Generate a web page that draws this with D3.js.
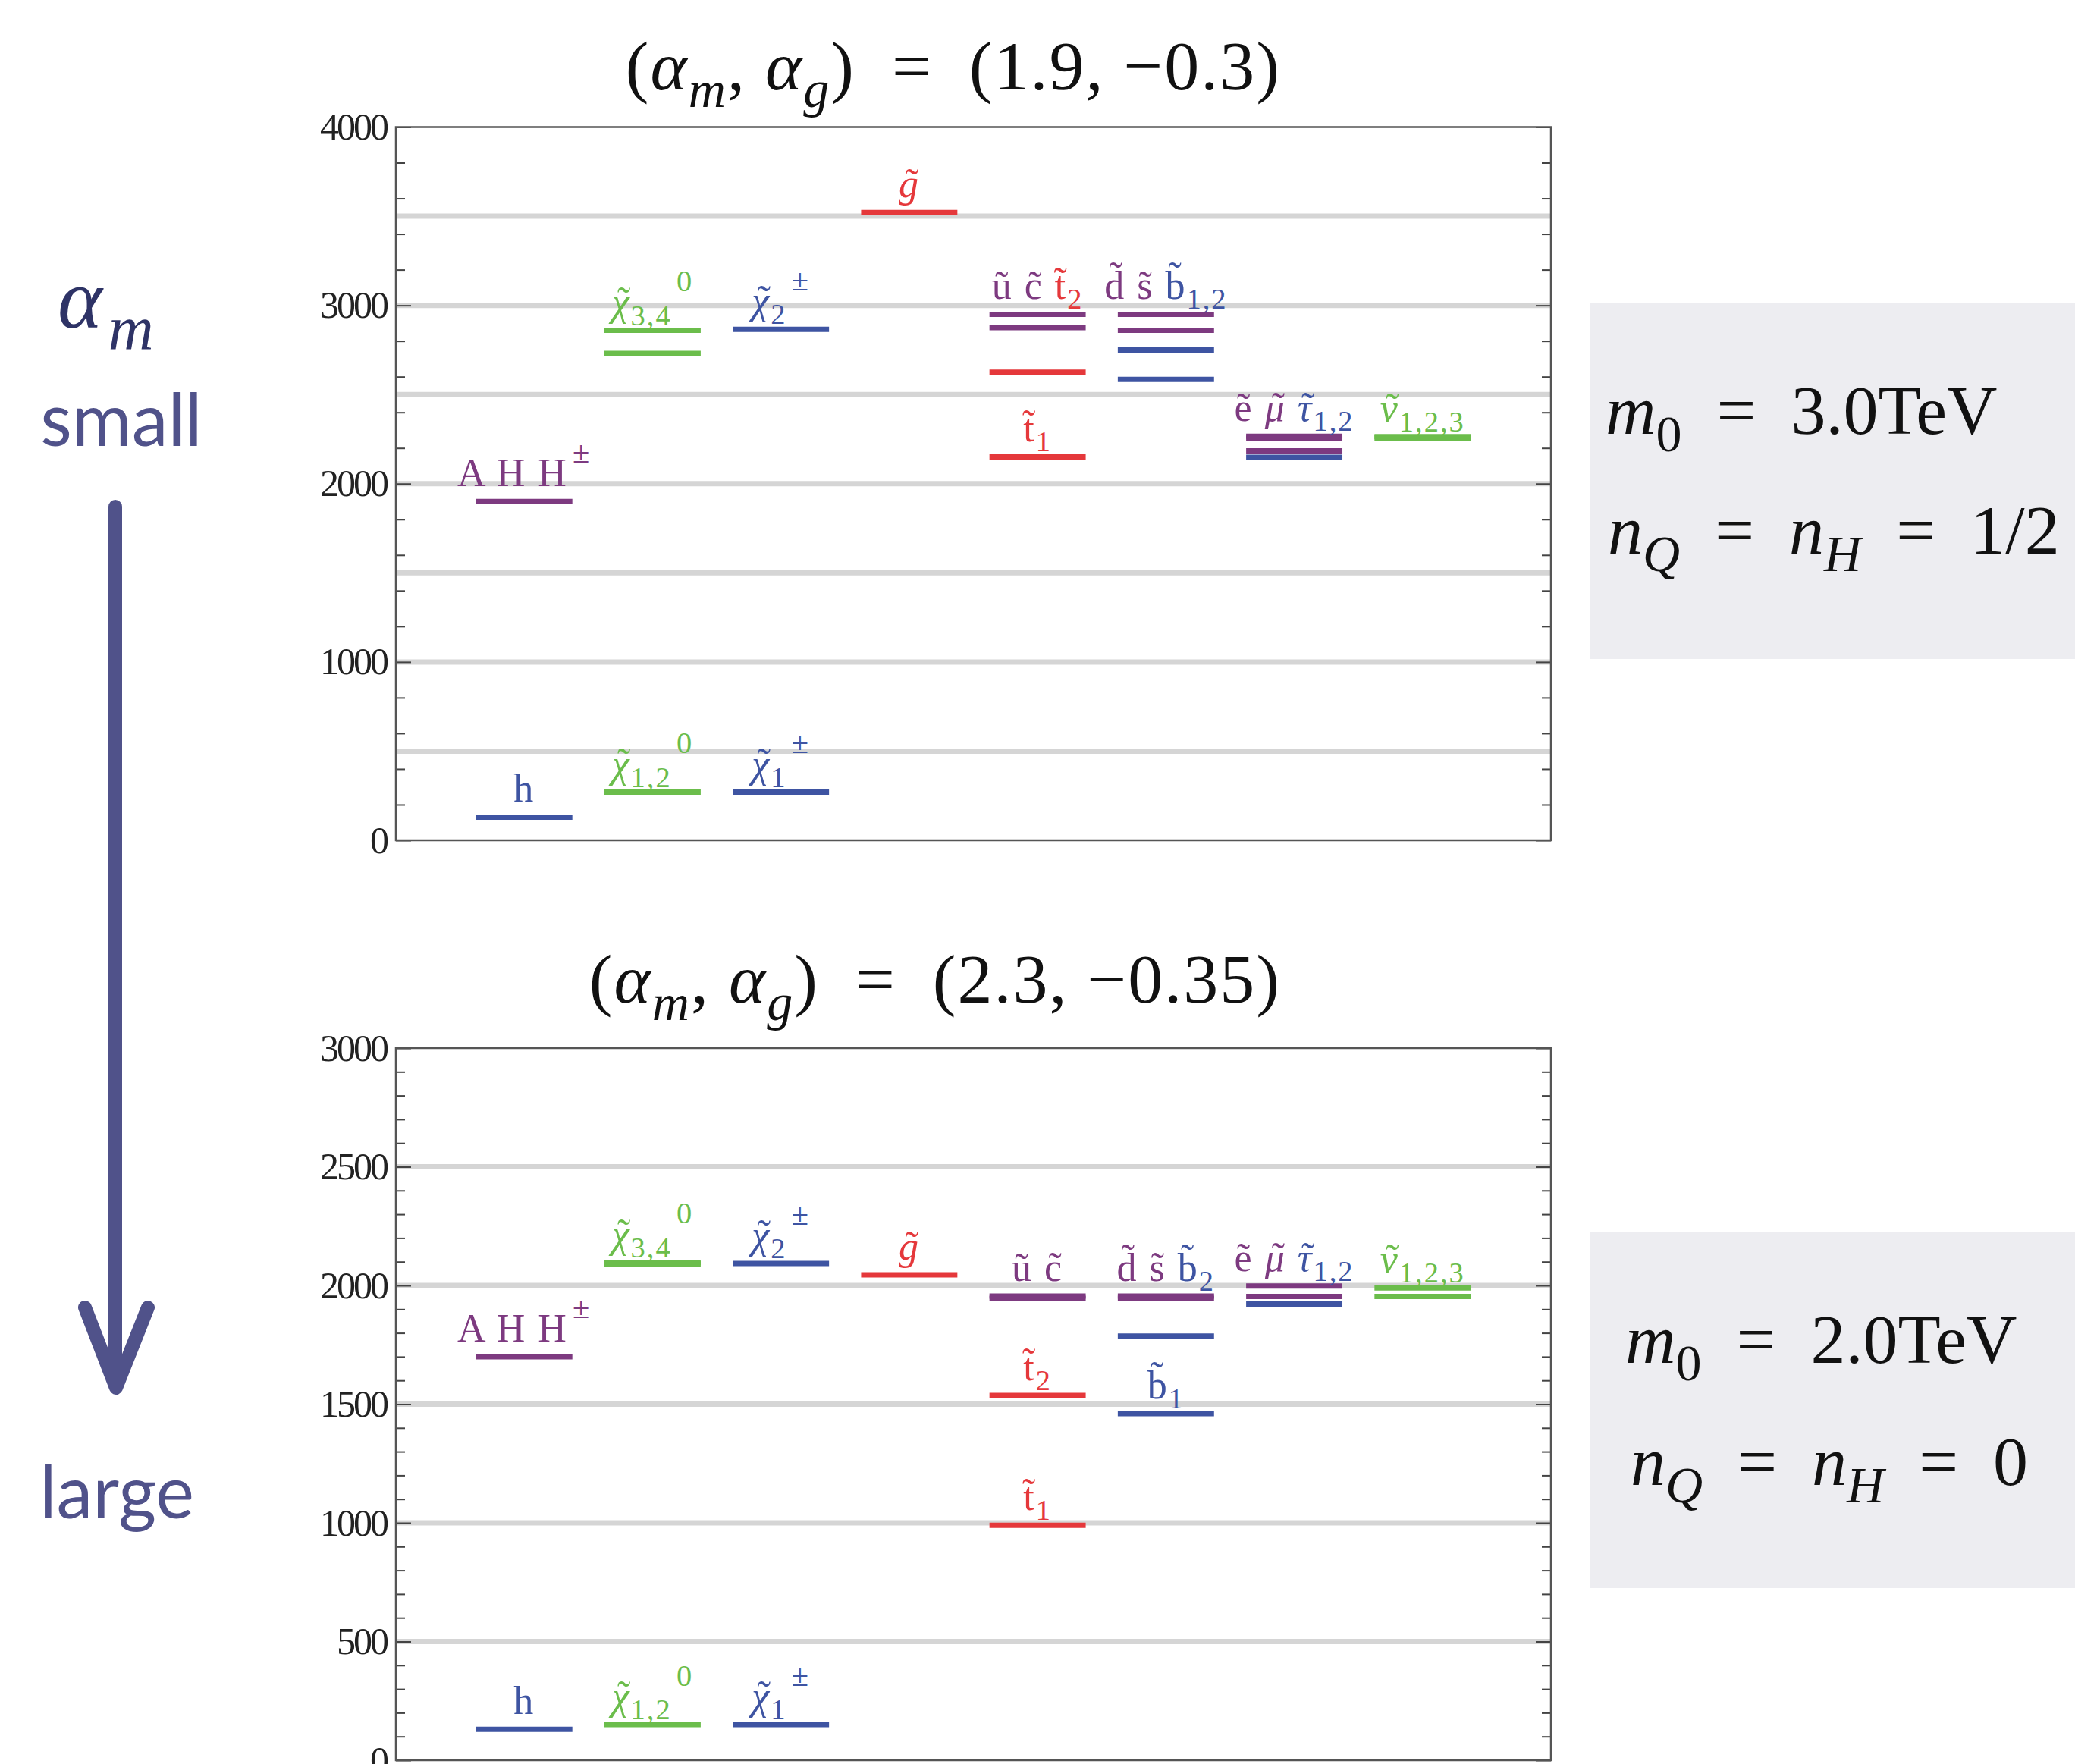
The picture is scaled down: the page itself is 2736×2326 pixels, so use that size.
<!DOCTYPE html>
<html>
<head>
<meta charset="utf-8">
<script src="https://cdn.jsdelivr.net/npm/d3@7"></script>
<style>
	body { margin: 0; background: #fff; }
</style>
</head>
<body>
<script>
const W = 2736, H = 2326;
const SERIF = '"Liberation Serif", "DejaVu Serif", serif';

// particle kind -> colour group
const kinds = ['h', 'heavyH', 'neutralino', 'chargino', 'gluino', 'squark', 'stop', 'sbottom', 'slepton', 'stau', 'sneutrino'];
const kindColors = ['#3e54a2', '#7d3a80', '#6bbd4b', '#3e54a2', '#e5383b', '#7d3a80', '#e5383b', '#3e54a2', '#7d3a80', '#3e54a2', '#6bbd4b'];

// top spectrum, (alpha_m, alpha_g) = (1.9, -0.3): [column, kind, mass GeV]
const topLevels = [
	[1, 'h', 130], [1, 'heavyH', 1900],
	[2, 'neutralino', 270], [2, 'neutralino', 2860], [2, 'neutralino', 2730],
	[3, 'chargino', 270], [3, 'chargino', 2865],
	[4, 'gluino', 3520],
	[5, 'squark', 2950], [5, 'squark', 2875], [5, 'stop', 2625], [5, 'stop', 2150],
	[6, 'squark', 2950], [6, 'squark', 2860], [6, 'sbottom', 2750], [6, 'sbottom', 2585],
	[7, 'slepton', 2266], [7, 'slepton', 2254], [7, 'slepton', 2184], [7, 'stau', 2148],
	[8, 'sneutrino', 2264], [8, 'sneutrino', 2256]
];

// bottom spectrum, (alpha_m, alpha_g) = (2.3, -0.35)
const bottomLevels = [
	[1, 'h', 130], [1, 'heavyH', 1700],
	[2, 'neutralino', 150], [2, 'neutralino', 2097], [2, 'neutralino', 2091],
	[3, 'chargino', 150], [3, 'chargino', 2093],
	[4, 'gluino', 2045],
	[5, 'squark', 1955], [5, 'squark', 1946], [5, 'stop', 1537], [5, 'stop', 990],
	[6, 'squark', 1955], [6, 'squark', 1946], [6, 'sbottom', 1787], [6, 'sbottom', 1460],
	[7, 'slepton', 1998], [7, 'slepton', 1954], [7, 'stau', 1922],
	[8, 'sneutrino', 1990], [8, 'sneutrino', 1954]
];

// labels: [column, mass the label sits over, parts [text, kind, mode]]
// mode: i italic, it italic with tilde, sub, sup, isub
const topLabels = [
	[1, 130, [['h', 'h']]],
	[1, 1900, [['A  H  H', 'heavyH'], ['±', 'heavyH', 'sup']]],
	[2, 270, [['χ', 'neutralino', 'it'], ['1,2', 'neutralino', 'sub'], ['0', 'neutralino', 'sup']]],
	[2, 2860, [['χ', 'neutralino', 'it'], ['3,4', 'neutralino', 'sub'], ['0', 'neutralino', 'sup']]],
	[3, 270, [['χ', 'chargino', 'it'], ['1', 'chargino', 'sub'], ['±', 'chargino', 'sup']]],
	[3, 2865, [['χ', 'chargino', 'it'], ['2', 'chargino', 'sub'], ['±', 'chargino', 'sup']]],
	[4, 3520, [['g', 'gluino', 'it']]],
	[5, 2950, [['ũ  c̃ ', 'squark'], ['t̃', 'stop'], ['2', 'stop', 'sub']]],
	[5, 2150, [['t̃', 'stop'], ['1', 'stop', 'sub']]],
	[6, 2950, [['d̃ s̃  ', 'squark'], ['b̃', 'sbottom'], ['1,2', 'sbottom', 'sub']]],
	[7, 2266, [['ẽ ', 'slepton'], ['μ', 'slepton', 'it'], [' '], ['τ', 'stau', 'it'], ['1,2', 'stau', 'sub']]],
	[8, 2264, [['ν', 'sneutrino', 'it'], ['1,2,3', 'sneutrino', 'sub']]]
];

const bottomLabels = [
	[1, 130, [['h', 'h']]],
	[1, 1700, [['A  H  H', 'heavyH'], ['±', 'heavyH', 'sup']]],
	[2, 150, [['χ', 'neutralino', 'it'], ['1,2', 'neutralino', 'sub'], ['0', 'neutralino', 'sup']]],
	[2, 2097, [['χ', 'neutralino', 'it'], ['3,4', 'neutralino', 'sub'], ['0', 'neutralino', 'sup']]],
	[3, 150, [['χ', 'chargino', 'it'], ['1', 'chargino', 'sub'], ['±', 'chargino', 'sup']]],
	[3, 2093, [['χ', 'chargino', 'it'], ['2', 'chargino', 'sub'], ['±', 'chargino', 'sup']]],
	[4, 2045, [['g', 'gluino', 'it']]],
	[5, 1955, [['ũ    c̃', 'squark']]],
	[5, 1537, [['t̃', 'stop'], ['2', 'stop', 'sub']]],
	[5, 990, [['t̃', 'stop'], ['1', 'stop', 'sub']]],
	[6, 1955, [['d̃ s̃  ', 'squark'], ['b̃', 'sbottom'], ['2', 'sbottom', 'sub']]],
	[6, 1460, [['b̃', 'sbottom'], ['1', 'sbottom', 'sub']]],
	[7, 1998, [['ẽ ', 'slepton'], ['μ', 'slepton', 'it'], [' '], ['τ', 'stau', 'it'], ['1,2', 'stau', 'sub']]],
	[8, 1990, [['ν', 'sneutrino', 'it'], ['1,2,3', 'sneutrino', 'sub']]]
];

const topTicks = [0, 1000, 2000, 3000, 4000];
const bottomTicks = [0, 500, 1000, 1500, 2000, 2500, 3000];

const topTitle = [['('], ['α', null, 'i'], ['m', null, 'isub'], [', '], ['α', null, 'i'], ['g', null, 'isub'], [')\u2002=\u2002(1.9, −0.3)']];
const bottomTitle = [['('], ['α', null, 'i'], ['m', null, 'isub'], [', '], ['α', null, 'i'], ['g', null, 'isub'], [')\u2002=\u2002(2.3, −0.35)']];

const topBox = [
	[['m', null, 'i'], ['0', null, 'sub'], ['\u2002=\u20023.0TeV']],
	[['n', null, 'i'], ['Q', null, 'isub'], ['\u2002=\u2002'], ['n', null, 'i'], ['H', null, 'isub'], ['\u2002=\u20021/2']]
];
const bottomBox = [
	[['m', null, 'i'], ['0', null, 'sub'], ['\u2002=\u20022.0TeV']],
	[['n', null, 'i'], ['Q', null, 'isub'], ['\u2002=\u2002'], ['n', null, 'i'], ['H', null, 'isub'], ['\u2002=\u20020']]
];

const color = d3.scaleOrdinal().domain(kinds).range(kindColors);

const svg = d3.select('body')
	.append('svg')
	.attr('width', W)
	.attr('height', H)
	.style('font-family', SERIF);

// write text made of pieces with sub/superscripts, then put tildes on 'it' pieces
function mathText(sel, parts, fs, fallback) {
	let cur = 0;
	const accents = [];
	parts.forEach(p => {
		const mode = p[2] || '';
		let target = 0, size = fs, dx = 0;
		if (mode.endsWith('sub')) { target = 0.25 * fs; size = fs * 0.74; }
		if (mode === 'sup') { target = -0.6 * fs; size = fs * 0.78; dx = 0.12 * fs; }
		const ts = sel.append('tspan')
			.attr('dx', dx)
			.attr('dy', target - cur)
			.attr('font-size', size)
			.attr('font-style', mode.startsWith('i') ? 'italic' : 'normal')
			.attr('fill', p[1] ? color(p[1]) : fallback)
			.text(p[0]);
		if (mode === 'it') accents.push(ts);
		cur = target;
	});
	const baseY = +sel.attr('y');
	accents.forEach(ts => {
		const e = ts.node().getExtentOfChar(0);
		d3.select(sel.node().parentNode).append('text')
			.attr('x', e.x + e.width / 2 + 0.07 * fs)
			.attr('y', baseY - 0.02 * fs)
			.attr('text-anchor', 'middle')
			.attr('font-size', fs)
			.attr('fill', ts.attr('fill'))
			.text('˜');
	});
}

function drawChart(cfg) {
	const x = d3.scaleLinear().domain([0, 9]).range([522, 2045]);
	const y = d3.scaleLinear().domain([0, cfg.max]).range([cfg.bottom, cfg.top]);
	const g = svg.append('g');

	// grey guide lines
	g.selectAll('line.grid')
		.data(y.ticks(cfg.max / 500).filter(v => v > 0 && v < cfg.max))
		.enter().append('line')
		.attr('x1', x(0)).attr('x2', x(9))
		.attr('y1', d => y(d)).attr('y2', d => y(d))
		.attr('stroke', '#d5d5d5')
		.attr('stroke-width', 7);

	// ticks on both sides, pointing inwards
	const minor = d3.range(0, cfg.max + 1, cfg.minor).filter(v => !cfg.ticks.includes(v));
	[[d3.axisLeft, x(0)], [d3.axisRight, x(9)]].forEach(([ax, px], i) => {
		const a = g.append('g')
			.attr('transform', `translate(${px},0)`)
			.attr('color', '#444')
			.call(ax(y).tickValues(cfg.ticks).tickSize(-20).tickPadding(12).tickFormat(i ? '' : d3.format('d')));
		a.select('.domain').remove();
		a.selectAll('line').attr('stroke-width', 2);
		a.selectAll('text')
			.style('font-family', SERIF)
			.style('font-size', '50px')
			.style('letter-spacing', '-3px')
			.attr('fill', '#222');
		const m = g.append('g')
			.attr('transform', `translate(${px},0)`)
			.attr('color', '#444')
			.call(ax(y).tickValues(minor).tickSize(-12).tickFormat(''));
		m.select('.domain').remove();
		m.selectAll('line').attr('stroke-width', 2);
	});

	g.append('rect')
		.attr('x', x(0)).attr('y', y(cfg.max))
		.attr('width', x(9) - x(0)).attr('height', y(0) - y(cfg.max))
		.attr('fill', 'none')
		.attr('stroke', '#555')
		.attr('stroke-width', 2.5);

	// mass levels
	g.selectAll('line.level')
		.data(cfg.levels)
		.enter().append('line')
		.attr('x1', d => x(d[0] - 0.375)).attr('x2', d => x(d[0] + 0.375))
		.attr('y1', d => y(d[2])).attr('y2', d => y(d[2]))
		.attr('stroke', d => color(d[1]))
		.attr('stroke-width', 7);

	// particle names
	cfg.labels.forEach(l => {
		const t = g.append('text')
			.attr('x', x(l[0]))
			.attr('y', y(l[1]) - 20)
			.attr('text-anchor', 'middle')
			.style('letter-spacing', '2px')
			.attr('font-size', 52);
		mathText(t, l[2], 52, '#7d3a80');
	});

	const title = svg.append('text')
		.attr('x', 1689)
		.attr('y', cfg.titleY)
		.attr('text-anchor', 'end')
		.style('letter-spacing', '2px')
		.attr('font-size', 92);
	mathText(title, cfg.title, 92, '#111');

	// parameter box
	svg.append('rect')
		.attr('x', 2097).attr('y', cfg.boxY)
		.attr('width', W - 2097).attr('height', 469)
		.attr('fill', '#ededf1');
	cfg.box.forEach((line, i) => {
		const t = svg.append('text')
			.attr('x', cfg.boxX[i])
			.attr('y', cfg.boxY + cfg.boxLines[i])
			.attr('font-size', 92);
		mathText(t, line, 92, '#111');
	});
}

drawChart({
	max: 4000, top: 167.5, bottom: 1108, minor: 200, ticks: topTicks,
	levels: topLevels, labels: topLabels, title: topTitle, titleY: 118,
	box: topBox, boxY: 400, boxX: [2117, 2120], boxLines: [172, 330]
});

drawChart({
	max: 3000, top: 1382, bottom: 2321, minor: 100, ticks: bottomTicks,
	levels: bottomLevels, labels: bottomLabels, title: bottomTitle, titleY: 1322,
	box: bottomBox, boxY: 1625, boxX: [2143, 2150], boxLines: [172, 333]
});

// alpha_m arrow on the left
const alpha = svg.append('text')
	.attr('x', 76)
	.attr('y', 432)
	.style('letter-spacing', '8px')
	.attr('font-size', 112);
mathText(alpha, [['α', null, 'i'], ['m', null, 'isub']], 112, '#2e3366');

[['small', 160, 588], ['large', 154, 2002]].forEach(([word, wx, wy]) => {
	svg.append('text')
		.attr('x', wx).attr('y', wy)
		.attr('text-anchor', 'middle')
		.style('font-family', 'Lato, "Open Sans", sans-serif')
		.style('font-size', '96px')
		.attr('fill', '#50528a')
		.text(word);
});

svg.append('path')
	.attr('d', 'M152,668 L152,1828 M112,1724 L153,1830 L195,1724')
	.attr('fill', 'none')
	.attr('stroke', '#50528a')
	.attr('stroke-width', 18)
	.attr('stroke-linecap', 'round')
	.attr('stroke-linejoin', 'round');
</script>
</body>
</html>
